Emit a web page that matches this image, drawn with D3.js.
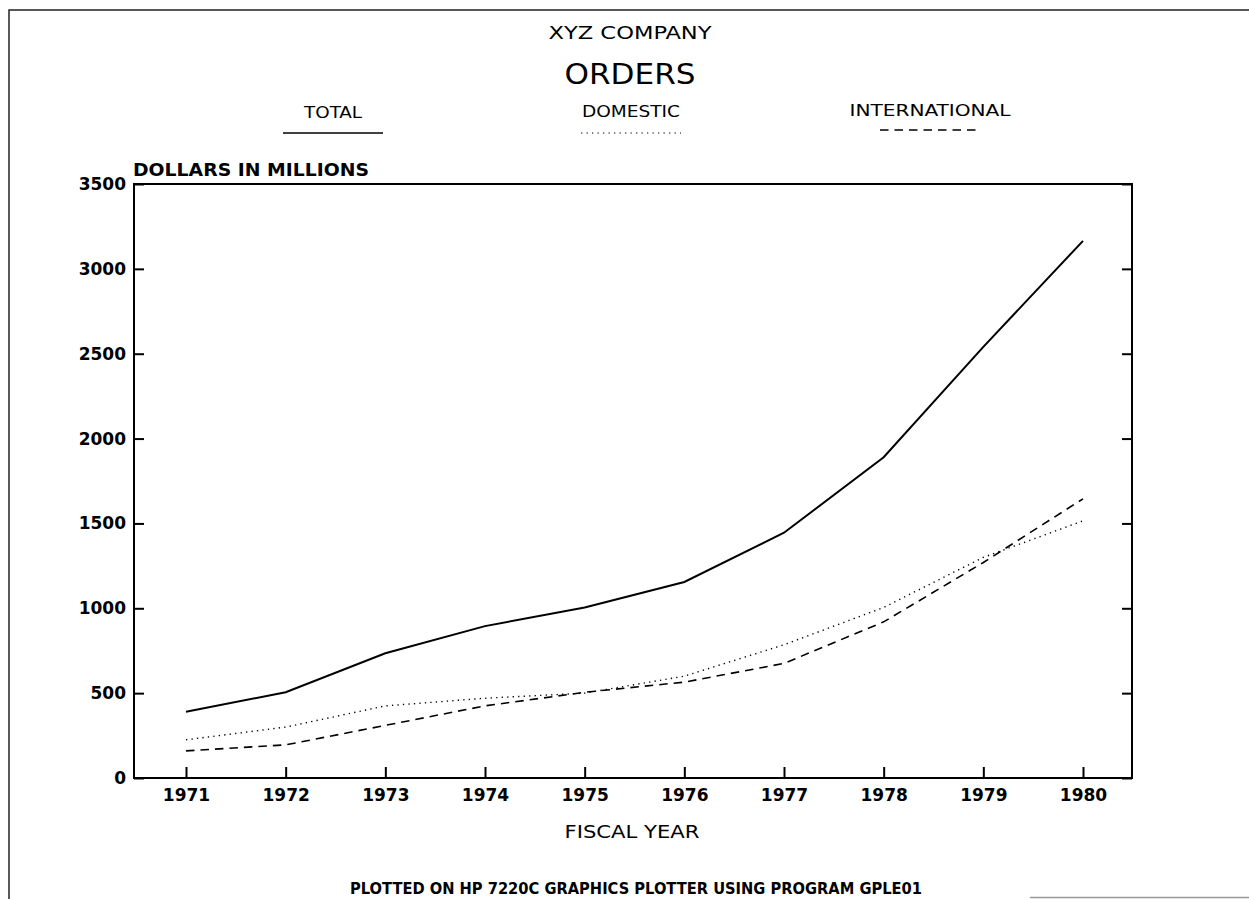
<!DOCTYPE html>
<html>
<head>
<meta charset="utf-8">
<script src="https://cdn.jsdelivr.net/npm/d3@7"></script>
<style>
  body { margin: 0; background: #fff; }
  .thin { font-family: "Liberation Sans Narrow", "DejaVu Sans Condensed", "Liberation Sans", sans-serif; }
  .bold { font-family: "DejaVu Sans", sans-serif; font-weight: bold; }
</style>
</head>
<body>
<div id="chart"></div>
<script>
// orders, dollars in millions
var years = [1971, 1972, 1973, 1974, 1975, 1976, 1977, 1978, 1979, 1980];
var total = [390, 505, 735, 895, 1005, 1155, 1445, 1890, 2540, 3165];
var domestic = [225, 300, 425, 470, 500, 600, 785, 1005, 1300, 1515];
var international = [160, 195, 310, 425, 505, 565, 675, 920, 1270, 1645];
var seriesNames = ["TOTAL", "DOMESTIC", "INTERNATIONAL"];
var yTicks = [0, 500, 1000, 1500, 2000, 2500, 3000, 3500];

var width = 1249,
    height = 899;

var plotLeft = 134, plotRight = 1132, plotTop = 184, plotBottom = 778;

var svg = d3.select("#chart")
  .append("svg")
    .attr("width", width)
    .attr("height", height)
    .style("display", "block");

svg.append("rect").attr("width", width).attr("height", height).attr("fill", "#fff");

// page border from the scan
svg.append("path")
  .attr("d", "M9,899 V10 H1249")
  .attr("fill", "none").attr("stroke", "#222").attr("stroke-width", 1.5);
svg.append("line")
  .attr("x1", 1030).attr("x2", 1249).attr("y1", 897.5).attr("y2", 897.5)
  .attr("stroke", "#999").attr("stroke-width", 1.5);

var x = d3.scaleLinear().domain([1971, 1980]).range([186, 1083]);
var y = d3.scaleLinear().domain([0, 3500]).range([plotBottom, plotTop]);

// titles
svg.append("text").attr("class", "thin")
  .attr("x", 630).attr("y", 39).attr("text-anchor", "middle")
  .attr("font-size", 18).attr("textLength", 163).attr("lengthAdjust", "spacingAndGlyphs")
  .text("XYZ COMPANY");
svg.append("text").attr("class", "thin")
  .attr("x", 630).attr("y", 84).attr("text-anchor", "middle")
  .attr("font-size", 29).attr("textLength", 131).attr("lengthAdjust", "spacingAndGlyphs")
  .text("ORDERS");

// legend
var legendX = [333, 631, 930];
var legendW = [58, 98, 161];
var legendText = [118, 117, 116];
var dashes = [null, "1.3,4.2", "8.5,6"];
seriesNames.forEach(function(name, i){
    svg.append("text").attr("class", "thin")
      .attr("x", legendX[i]).attr("y", legendText[i]).attr("text-anchor", "middle")
      .attr("font-size", 16.5).attr("textLength", legendW[i]).attr("lengthAdjust", "spacingAndGlyphs")
      .text(name);
    svg.append("line")
      .attr("x1", legendX[i] - 50).attr("x2", legendX[i] + 50)
      .attr("y1", i == 2 ? 130 : 133).attr("y2", i == 2 ? 130 : 133)
      .attr("stroke", "#000")
      .attr("stroke-width", i == 1 ? 1.2 : 1.6)
      .attr("stroke-dasharray", dashes[i]);
});

// y axis label
svg.append("text").attr("class", "bold")
  .attr("x", 133).attr("y", 176)
  .attr("font-size", 18).attr("textLength", 236).attr("lengthAdjust", "spacingAndGlyphs")
  .text("DOLLARS IN MILLIONS");

// axes, ticks point inward
var yAxis = svg.append("g")
  .attr("transform", "translate(" + plotLeft + ",0)")
  .call(d3.axisLeft(y).tickValues(yTicks).tickSize(-10).tickPadding(8).tickFormat(d3.format("d")));
yAxis.selectAll("text").attr("class", "bold").attr("font-size", 17).attr("fill", "#000");

svg.append("g")
  .attr("transform", "translate(" + plotRight + ",0)")
  .call(d3.axisRight(y).tickValues(yTicks).tickSize(-10).tickFormat(""));

var xAxis = svg.append("g")
  .attr("transform", "translate(0," + plotBottom + ")")
  .call(d3.axisBottom(x).tickValues(years).tickSize(-11).tickPadding(11).tickFormat(d3.format("d")));
xAxis.selectAll("text").attr("class", "bold").attr("font-size", 17).attr("fill", "#000");

svg.selectAll(".domain").remove();
svg.selectAll(".tick line").attr("stroke", "#000").attr("stroke-width", 2);

svg.append("rect")
  .attr("x", plotLeft).attr("y", plotTop)
  .attr("width", plotRight - plotLeft).attr("height", plotBottom - plotTop)
  .attr("fill", "none").attr("stroke", "#000").attr("stroke-width", 2);

// series lines
var line = d3.line()
  .x(function(d, i){ return x(years[i]); })
  .y(function(d){ return y(d); });

[total, domestic, international].forEach(function(values, i){
    svg.append("path")
      .datum(values)
      .attr("d", line)
      .attr("fill", "none")
      .attr("stroke", "#000")
      .attr("stroke-width", i == 0 ? 2 : (i == 1 ? 1.4 : 1.6))
      .attr("stroke-dasharray", dashes[i]);
});

// x axis title and footer
svg.append("text").attr("class", "thin")
  .attr("x", 632).attr("y", 838).attr("text-anchor", "middle")
  .attr("font-size", 18).attr("textLength", 135).attr("lengthAdjust", "spacingAndGlyphs")
  .text("FISCAL YEAR");
svg.append("text").attr("class", "bold")
  .attr("x", 636).attr("y", 894).attr("text-anchor", "middle")
  .attr("font-size", 15).attr("textLength", 572).attr("lengthAdjust", "spacingAndGlyphs")
  .text("PLOTTED ON HP 7220C GRAPHICS PLOTTER USING PROGRAM GPLE01");
</script>
</body>
</html>
